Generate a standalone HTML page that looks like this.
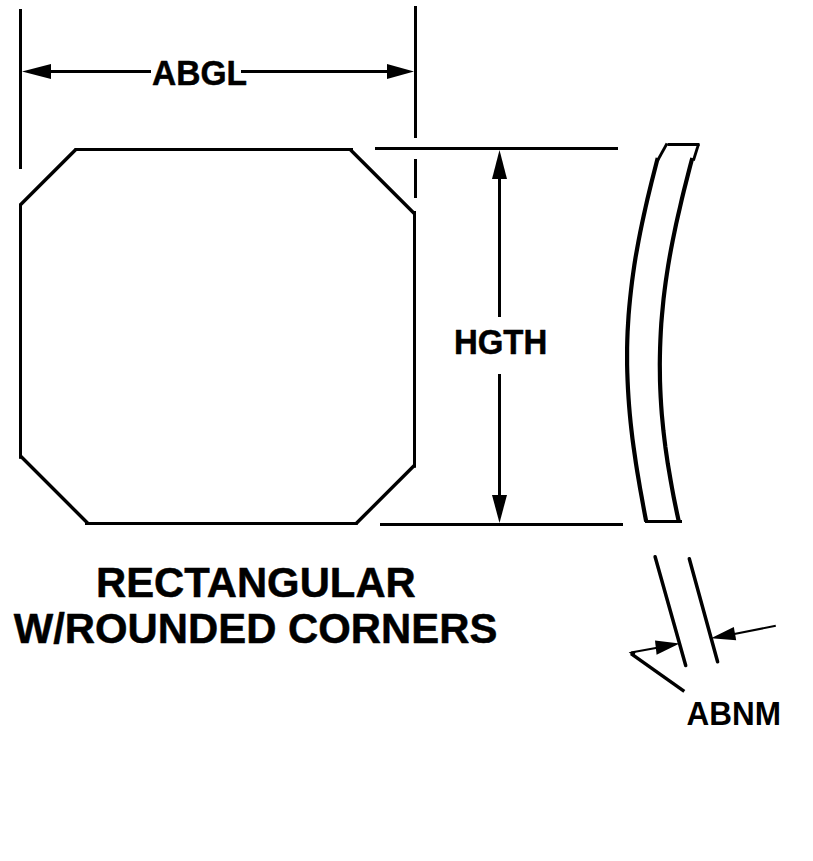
<!DOCTYPE html>
<html>
<head>
<meta charset="utf-8">
<title>Rectangular w/rounded corners</title>
<style>
html,body{margin:0;padding:0;background:#fff;}
body{width:813px;height:861px;overflow:hidden;}
svg{display:block;}
text{font-family:"Liberation Sans",Arial,Helvetica,sans-serif;font-weight:bold;fill:#000;}
.l{stroke:#000;stroke-width:3;fill:none;stroke-linecap:butt;stroke-linejoin:miter;}
.d{stroke:#000;stroke-width:3.4;fill:none;stroke-linecap:butt;}
.c{stroke:#000;stroke-width:4.2;fill:none;stroke-linecap:butt;stroke-linejoin:round;}
.r{stroke:#000;stroke-width:3.5;fill:none;stroke-linecap:round;}
.t{stroke:#000;stroke-width:2;fill:none;}
.b{stroke:#000;stroke-width:0.5;stroke-linejoin:round;}
.a{fill:#000;stroke:none;}
</style>
</head>
<body>
<svg width="813" height="861" viewBox="0 0 813 861">
<rect width="813" height="861" fill="#fff"/>
<g>
<!-- octagon -->
<line class="l" x1="74.5" y1="149.5" x2="353" y2="149.5"/>
<line class="l" x1="414.5" y1="211" x2="414.5" y2="467.7"/>
<line class="l" x1="85" y1="523.5" x2="357.7" y2="523.5"/>
<line class="l" x1="20.5" y1="203.5" x2="20.5" y2="458.8"/>
<line class="d" x1="20.5" y1="204.8" x2="75.8" y2="149.5"/>
<line class="d" x1="350.2" y1="149.5" x2="414.5" y2="213.8"/>
<line class="d" x1="414.5" y1="465.2" x2="356.2" y2="523.5"/>
<line class="d" x1="20.5" y1="456" x2="88" y2="523.5"/>
<!-- ABGL extension lines -->
<line class="l" x1="20.5" y1="9" x2="20.5" y2="169"/>
<line class="l" x1="415.5" y1="6" x2="415.5" y2="138"/>
<line class="l" x1="415.5" y1="159" x2="415.5" y2="198"/>
<!-- ABGL dimension line -->
<line class="l" x1="48" y1="71.5" x2="151" y2="71.5"/>
<line class="l" x1="241" y1="71.5" x2="390" y2="71.5"/>
<polygon class="a" points="22,71.5 51,64 51,79"/>
<polygon class="a" points="414,71.5 387,64 387,79"/>
<!-- HGTH -->
<line class="l" x1="375" y1="148.5" x2="618" y2="148.5"/>
<line class="l" x1="380" y1="524.5" x2="623" y2="524.5"/>
<line class="l" x1="499.5" y1="176" x2="499.5" y2="317"/>
<line class="l" x1="499.5" y1="374" x2="499.5" y2="498"/>
<polygon class="a" points="499.5,150 492,179 507,179"/>
<polygon class="a" points="499.5,523 492,495 507,495"/>
<!-- curved piece -->
<polyline class="c" points="657.7,158.0 655.6,166.3 653.5,174.5 651.4,182.8 649.4,191.0 647.4,199.3 645.5,207.6 643.7,215.8 641.9,224.1 640.2,232.4 638.6,240.6 637.1,248.9 635.6,257.1 634.3,265.4 633.1,273.7 632.0,281.9 631.0,290.2 630.1,298.4 629.3,306.7 628.6,315.0 628.1,323.2 627.6,331.5 627.3,339.8 627.1,348.0 627.1,356.3 627.1,364.5 627.3,372.8 627.6,381.1 628.0,389.3 628.5,397.6 629.1,405.8 629.8,414.1 630.6,422.4 631.5,430.6 632.5,438.9 633.6,447.1 634.8,455.4 636.0,463.7 637.3,471.9 638.7,480.2 640.1,488.5 641.6,496.7 643.1,505.0 644.6,513.2 646.2,521.5"/>
<polyline class="c" points="692.3,158.0 690.1,166.3 688.0,174.5 685.9,182.8 683.8,191.0 681.8,199.3 679.9,207.6 678.0,215.8 676.1,224.1 674.4,232.4 672.7,240.6 671.1,248.9 669.6,257.1 668.2,265.4 666.9,273.7 665.7,281.9 664.6,290.2 663.6,298.4 662.8,306.7 662.0,315.0 661.3,323.2 660.8,331.5 660.4,339.8 660.1,348.0 659.9,356.3 659.8,364.5 659.9,372.8 660.0,381.1 660.3,389.3 660.7,397.6 661.2,405.8 661.8,414.1 662.6,422.4 663.4,430.6 664.4,438.9 665.4,447.1 666.6,455.4 667.8,463.7 669.2,471.9 670.6,480.2 672.1,488.5 673.6,496.7 675.3,505.0 677.0,513.2 678.8,521.5"/>
<line class="l" x1="667.5" y1="144.5" x2="699.5" y2="144.5"/>
<line class="l" x1="645" y1="521.5" x2="682" y2="521.5"/>
<line class="t" x1="667" y1="143.5" x2="657.6" y2="160.5" style="stroke-width:2.8"/>
<line class="t" x1="698.6" y1="144" x2="693.4" y2="160.5" style="stroke-width:2.8"/>
<!-- ABNM -->
<line class="r" x1="655.1" y1="556.8" x2="685.7" y2="665.5"/>
<line class="r" x1="689.3" y1="558.8" x2="717.6" y2="661.8"/>
<line class="t" x1="631" y1="652.6" x2="660" y2="647.2"/>
<line class="l" x1="631" y1="653.6" x2="684.3" y2="691.4" style="stroke-width:3.4"/>
<polygon class="a" points="679.6,643.5 655,640.6 656.6,654.8"/>
<polygon class="a" points="628.7,652.2 636,651 634,656.5"/>
<line class="t" x1="775.8" y1="625.8" x2="733" y2="634.2"/>
<polygon class="a" points="711,638.2 733.8,627 736.2,640.3"/>
</g>
<text x="152" y="85" font-size="34.7" textLength="95" lengthAdjust="spacingAndGlyphs" class="b">ABGL</text>
<text x="453.9" y="354.1" font-size="34.7" textLength="93.4" lengthAdjust="spacingAndGlyphs" class="b">HGTH</text>
<text x="686.5" y="725" font-size="33.3" textLength="94.4" lengthAdjust="spacingAndGlyphs">ABNM</text>
<!-- caption -->
<text x="96" y="596.7" font-size="42.9" textLength="319.8" lengthAdjust="spacingAndGlyphs" class="b">RECTANGULAR</text>
<text x="13.7" y="643.2" font-size="42.9" textLength="483.7" lengthAdjust="spacingAndGlyphs" class="b">W/ROUNDED CORNERS</text>
</svg>
</body>
</html>
